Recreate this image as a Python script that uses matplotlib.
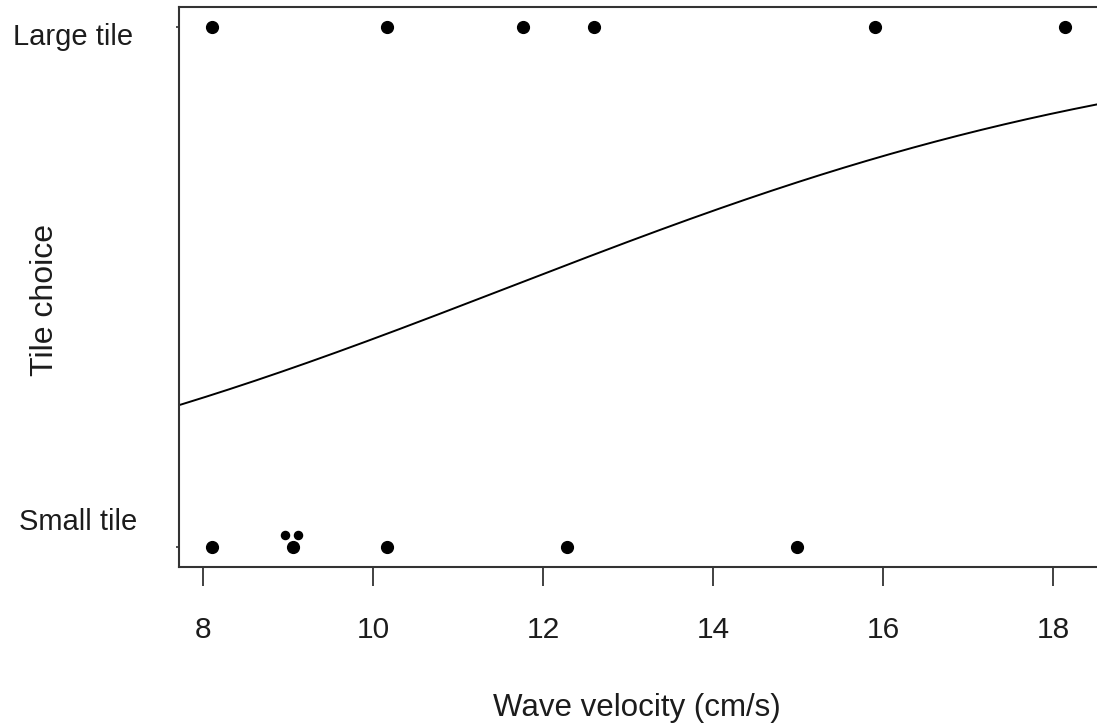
import numpy as np
import matplotlib.pyplot as plt

plt.rcParams['font.family'] = ['Liberation Sans', 'DejaVu Sans']

# wave velocity (cm/s) for each trial, split by chosen tile
large_x = [8.11, 10.17, 11.77, 12.60, 15.91, 18.14]
small_x = [8.11, 9.06, 10.17, 12.28, 14.99]
# overlapping small-tile trials near 9 cm/s, drawn stacked
stacked_x = [8.97, 9.12]
stacked_y = [0.023, 0.023]

# fitted logistic model, probability of choosing the large tile
intercept = -2.925
slope = 0.252

W, H = 1097, 724
txt = '#1c1c1c'
fig = plt.figure(figsize=(W / 100, H / 100), dpi=100)
ax = fig.add_axes([179 / W, (H - 567) / H, (1099 - 179) / W, 560 / H])

ax.scatter(large_x, np.ones(len(large_x)), s=72, color='black', zorder=3)
ax.scatter(small_x, np.zeros(len(small_x)), s=72, color='black', zorder=3)
ax.scatter(stacked_x, stacked_y, s=34, color='black', zorder=3)

xs = np.linspace(7.5, 19, 300)
ax.plot(xs, 1 / (1 + np.exp(-(intercept + slope * xs))), color='black', lw=1.4)

ax.set_xlim(7.72, 18.54)
ax.set_ylim(-0.038, 1.038)
ax.set_xticks([8, 10, 12, 14, 16, 18])
ax.set_yticks([0, 1])
ax.set_yticklabels([])
ax.tick_params(axis='x', direction='out', length=14, width=1.3, pad=21,
               labelsize=21.5, color='#333333', labelcolor=txt)
ax.tick_params(axis='y', direction='out', length=2, width=1.2, color='#333333')
for sp in ax.spines.values():
    sp.set_color('#333333')
    sp.set_linewidth(1.5)

fig.text(133 / W, 1 - 37 / H, 'Large tile', ha='right', va='center',
         fontsize=21, color=txt)
fig.text(137 / W, 1 - 522 / H, 'Small tile', ha='right', va='center',
         fontsize=21, color=txt)
fig.text(45 / W, 1 - 300 / H, 'Tile choice', rotation=90, ha='center',
         va='center', fontsize=23, color=txt)
fig.text(637 / W, 1 - 708 / H, 'Wave velocity (cm/s)', ha='center',
         va='center', fontsize=22.5, color=txt)

fig.savefig('out.png', dpi=100)
